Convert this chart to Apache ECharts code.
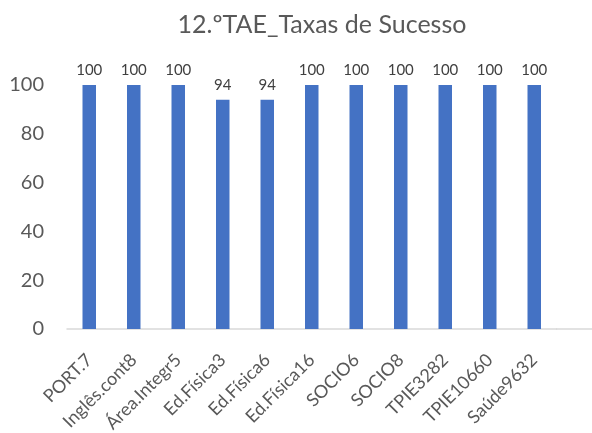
<!DOCTYPE html>
<html>
<head>
<meta charset="utf-8">
<script src="https://cdn.jsdelivr.net/npm/echarts@6/dist/echarts.min.js"></script>
<style>
  html, body { margin: 0; padding: 0; background: #fff; }
  #chart { width: 592px; height: 433px; }
</style>
</head>
<body>
<div id="chart"></div>
<script>
var categories = ['PORT.7', 'Inglês.cont8', 'Área.Integr5', 'Ed.Física3', 'Ed.Física6',
  'Ed.Física16', 'SOCIO6', 'SOCIO8', 'TPIE3282', 'TPIE10660', 'Saúde9632'];
var taxas = [100, 100, 100, 94, 94, 100, 100, 100, 100, 100, 100];
var yTicks = [0, 20, 40, 60, 80, 100];

var font = 'Lato, "Liberation Sans", sans-serif';
var myChart = echarts.init(document.getElementById('chart'));
var option = {
  animation: false,
  title: {
    text: '12.ºTAE_Taxas de Sucesso',
    left: 317,
    top: 7,
    textAlign: 'center',
    textStyle: { color: '#595959', fontSize: 25, fontWeight: 'normal', fontFamily: font }
  },
  grid: { left: 67, right: 35.5, top: 85, bottom: 104, outerBoundsMode: 'none' },
  // axis line keeps going to the right edge like the original
  graphic: [{
    type: 'line',
    shape: { x1: 556, y1: 329, x2: 592, y2: 329 },
    style: { stroke: '#d9d9d9', lineWidth: 1.5 }
  }],
  xAxis: {
    type: 'category',
    data: categories,
    axisLine: { lineStyle: { color: '#d9d9d9', width: 1.5 } },
    axisTick: { show: false },
    axisLabel: { rotate: 45, margin: 28, color: '#595959', fontSize: 18, fontFamily: font, interval: 0 }
  },
  yAxis: {
    type: 'value',
    min: yTicks[0],
    max: yTicks[yTicks.length - 1],
    interval: 20,
    splitLine: { show: false },
    axisLine: { show: false },
    axisTick: { show: false },
    axisLabel: { margin: 23, color: '#595959', fontSize: 20, fontFamily: font }
  },
  series: [{
    type: 'bar',
    data: taxas,
    barWidth: 13.5,
    itemStyle: { color: '#4472C4' },
    label: {
      show: true,
      position: 'top',
      distance: 7,
      color: '#404040',
      fontSize: 15,
      fontFamily: font
    }
  }]
};
myChart.setOption(option);
</script>
</body>
</html>
